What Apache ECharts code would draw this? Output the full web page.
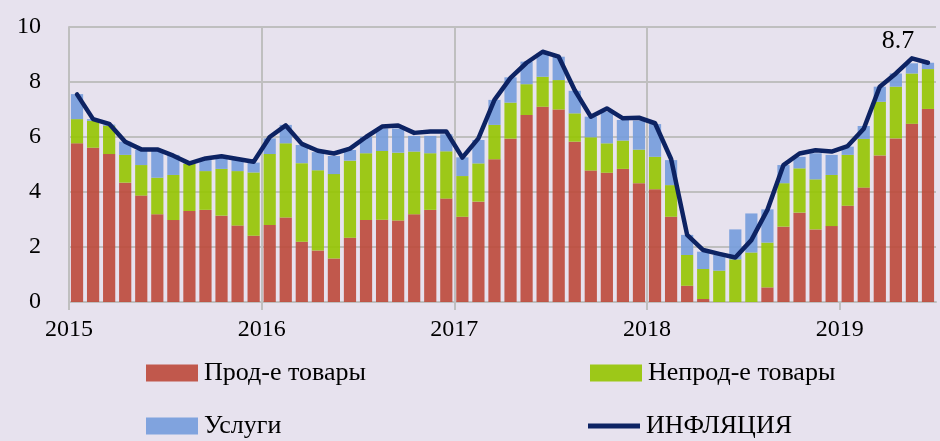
<!DOCTYPE html>
<html>
<head>
<meta charset="utf-8">
<script src="https://cdn.jsdelivr.net/npm/echarts@6/dist/echarts.min.js"></script>
<style>
  html, body { margin: 0; padding: 0; background: #E7E2EE; }
  #chart { width: 940px; height: 441px; }
</style>
</head>
<body>
<div id="chart"></div>
<script>
var years = ['2015', '2016', '2017', '2018', '2019'];

// months Jan 2015 .. Jun 2019
var categories = [];
years.forEach(function (y) {
    for (var m = 1; m <= 12; m++) {
        if (categories.length < 54) categories.push(y + '-' + (m < 10 ? '0' + m : m));
    }
});

var food = [5.77, 5.61, 5.38, 4.34, 3.87, 3.19, 2.98, 3.31, 3.35, 3.14, 2.78, 2.41,
            2.80, 3.07, 2.19, 1.87, 1.58, 2.34, 2.98, 2.99, 2.96, 3.19, 3.35, 3.76,
            3.10, 3.65, 5.19, 5.94, 6.80, 7.10, 7.00, 5.83, 4.78, 4.70, 4.84, 4.32,
            4.10, 3.10, 0.59, 0.11, 0.00, 0.00, 0.00, 0.53, 2.74, 3.25, 2.64, 2.76,
            3.50, 4.16, 5.33, 5.95, 6.48, 7.02];
var nonFood = [0.88, 0.98, 1.03, 1.01, 1.11, 1.33, 1.64, 1.71, 1.41, 1.70, 1.98, 2.30,
               2.58, 2.70, 2.86, 2.92, 3.07, 2.80, 2.43, 2.50, 2.47, 2.28, 2.06, 1.72,
               1.48, 1.39, 1.25, 1.31, 1.12, 1.09, 1.07, 1.03, 1.21, 1.07, 1.03, 1.22,
               1.18, 1.15, 1.12, 1.09, 1.14, 1.55, 1.80, 1.63, 1.58, 1.61, 1.82, 1.86,
               1.85, 1.77, 1.95, 1.88, 1.83, 1.45];
var services = [0.91, 0.06, 0.04, 0.48, 0.55, 0.98, 0.73, 0.02, 0.40, 0.42, 0.44, 0.36,
                0.57, 0.67, 0.66, 0.66, 0.66, 0.39, 0.60, 0.82, 0.88, 0.57, 0.63, 0.62,
                0.68, 0.85, 0.91, 0.92, 0.82, 0.85, 0.85, 0.82, 0.75, 1.15, 0.75, 1.06,
                1.19, 0.91, 0.73, 0.63, 0.57, 1.09, 1.42, 1.21, 0.66, 0.42, 0.95, 0.73,
                0.30, 0.47, 0.55, 0.48, 0.37, 0.23];
var inflation = [7.55, 6.65, 6.48, 5.83, 5.55, 5.55, 5.32, 5.04, 5.22, 5.30, 5.20, 5.10,
                 6.00, 6.42, 5.75, 5.50, 5.40, 5.58, 6.00, 6.38, 6.42, 6.15, 6.20, 6.20,
                 5.25, 5.95, 7.35, 8.15, 8.70, 9.10, 8.92, 7.70, 6.74, 7.04, 6.68, 6.70,
                 6.50, 5.20, 2.44, 1.89, 1.75, 1.62, 2.25, 3.35, 4.98, 5.40, 5.52, 5.47,
                 5.67, 6.30, 7.83, 8.31, 8.86, 8.70];

var names = ['Прод-е товары', 'Непрод-е товары', 'Услуги', 'ИНФЛЯЦИЯ'];
var yearTicks = [0, 12, 24, 36, 48];

var font = '"Liberation Serif", "Times New Roman", serif';
var grey = '#BFBFBF';
var navy = '#0D2363';

var chart = echarts.init(document.getElementById('chart'));

function legendAt(name, left, top, h) {
    return {
        data: [{ name: name, icon: 'rect' }],
        left: left,
        top: top,
        padding: 0,
        itemWidth: 52,
        itemHeight: h || 17,
        selectedMode: false,
        textStyle: { fontFamily: font, fontSize: 26, color: '#000', padding: [0, 0, 0, 1] }
    };
}

function barSeries(name, data, color) {
    return {
        name: name,
        type: 'bar',
        stack: 'cpi',
        data: data,
        barCategoryGap: '24%',
        itemStyle: { color: color, opacity: 0.9 },
        emphasis: { disabled: true }
    };
}

var option = {
    backgroundColor: '#E7E2EE',
    animation: false,
    grid: { left: 69, right: 4, top: 27, bottom: 139 },
    legend: [
        legendAt(names[0], 146, 360),
        legendAt(names[1], 590, 360),
        legendAt(names[2], 146, 413),
        legendAt(names[3], 588, 413, 5)
    ],
    xAxis: [
        { type: 'category', data: categories, show: false, position: 'top' },
        {
            type: 'value', min: 0, max: categories.length, interval: 12,
            position: 'bottom',
            axisLine: { show: true, lineStyle: { color: grey, width: 2 } },
            axisTick: { show: true, length: 8, customValues: yearTicks, lineStyle: { color: grey, width: 2 } },
            splitLine: { show: true, showMinLine: false, showMaxLine: false, lineStyle: { color: grey, width: 2 } },
            axisLabel: {
                customValues: yearTicks,
                formatter: function (v) { return years[v / 12] || ''; },
                fontFamily: font, fontSize: 24, color: '#000', margin: 16
            }
        }
    ],
    yAxis: {
        type: 'value', min: 0, max: 10, interval: 2,
        axisLine: { show: true, lineStyle: { color: grey, width: 2 } },
        axisTick: { show: false },
        splitLine: { lineStyle: { color: grey, width: 2 } },
        axisLabel: { fontFamily: font, fontSize: 24, color: '#000', margin: 28 }
    },
    series: [
        barSeries(names[0], food, '#BC493A'),
        barSeries(names[1], nonFood, '#95C500'),
        barSeries(names[2], services, '#749CDB'),
        {
            name: names[3],
            type: 'line',
            data: inflation,
            symbol: 'circle',
            symbolSize: 0.1,
            showAllSymbol: true,
            z: 5,
            lineStyle: { color: navy, width: 4.5, cap: 'round', join: 'round' },
            itemStyle: { color: navy },
            label: {
                show: true,
                position: 'top',
                offset: [-30, -4],
                fontFamily: font, fontSize: 26, color: '#000',
                formatter: function (p) {
                    return p.dataIndex === inflation.length - 1 ? p.value.toFixed(1) : '';
                }
            },
            emphasis: { disabled: true }
        }
    ]
};

chart.setOption(option);
</script>
</body>
</html>
